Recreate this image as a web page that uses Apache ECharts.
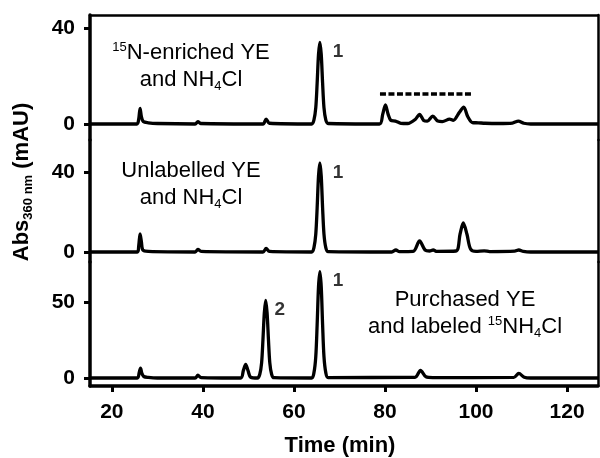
<!DOCTYPE html>
<html><head><meta charset="utf-8">
<script src="https://cdn.jsdelivr.net/npm/echarts@6/dist/echarts.min.js"></script>
<style>html,body{margin:0;padding:0;background:#fff}#c{width:600px;height:458px}</style>
</head><body><div id="c"></div>
<script>
// ---- data ----
const timeRange = [15.2, 126.8];
const xTicks = [20, 40, 60, 80, 100, 120];

// 15N-enriched YE and NH4Cl  [time (min), Abs (mAU)]
const trace15N = [
  [15.2,0],[25.5,0],[25.9,2],[26.2,6.5],[26.5,3],[26.9,1],[28,0.5],[30,0.2],
  [38.3,0],[38.9,1],[39.5,0.2],[53.2,0],[53.9,2],[54.6,0.3],
  [63.9,0],[64.4,1.7],[64.8,6.8],[65.1,17],[65.4,29],[65.7,34],[66.0,29],[66.3,17],[66.6,6.8],[67.0,1.7],[67.5,0.2],
  [78.8,0],[79.5,4],[80.1,8],[80.7,4],[81.3,1.5],[82.3,1.2],[83.5,0.3],[85,0.2],
  [86.7,2],[87.6,4],[88.5,1.5],[89.3,1.2],[90.5,3.3],[91.6,1.2],[92.6,1],[94.2,2],
  [95,1.5],[96.4,5],[97.3,7],[98.2,3],[99.2,0.6],[100.5,0.5],[102,0.3],[105,0.2],
  [108,0.4],[109.3,1.2],[110.5,0.3],[112,0],[126.8,0]
];
// Unlabelled YE and NH4Cl
const traceUnlabelled = [
  [15.2,0],[25.6,0],[25.9,3],[26.2,9],[26.5,5],[26.8,1],[28,0.3],
  [38.3,0],[38.9,1.3],[39.6,0.3],[53.2,0],[53.9,1.8],[54.6,0.3],
  [63.9,0],[64.4,2.2],[64.8,8.9],[65.1,22],[65.4,38],[65.7,44.5],[66.0,38],[66.3,22],[66.6,8.9],[67.0,2.2],[67.5,0.2],
  [81.5,0],[82.4,1],[83.2,0.2],[86.2,0.3],[87.6,5.5],[88.8,1],[89.8,0.5],[90.6,1],
  [91.4,0.3],[95.6,0.5],[96.5,9],[97.2,14.5],[98,9],[98.8,1.5],[100,0.3],[101.8,0.6],
  [103,0.2],[108.5,0.4],[109.4,1],[110.4,0.3],[112,0],[126.8,0]
];
// Purchased YE and labeled 15NH4Cl
const tracePurchased = [
  [15.2,0],[25.6,0],[26.0,3.5],[26.3,6.5],[26.6,3],[27,1],[28,0.4],[30,0],
  [38.3,0],[38.9,1.8],[39.6,0.3],[48.3,0],[48.9,5],[49.4,9],[49.9,5],[50.5,0.5],
  [52.0,0],[52.5,2.5],[52.9,10],[53.2,25.5],[53.5,43],[53.8,51],[54.1,43],[54.4,25.5],[54.7,10],[55.1,2.5],[55.6,0.2],
  [63.9,0],[64.4,3.5],[64.8,14],[65.1,35],[65.4,60],[65.7,70],[66.0,60],[66.3,35],[66.6,14],[67.0,3.5],[67.5,0.3],
  [86.6,0.5],[87.8,5],[89,0.8],[90.5,0.3],[108.3,0.4],[109.4,3],[110.6,0.5],[112,0],[126.8,0]
];
const dashBar = [[78.9, 12.5], [99.1, 12.5]];

const yTicks = [[0, 40], [0, 40], [0, 50]];
const yRanges = [[-6.67, 45.4], [-5, 56], [-5.26, 76.3]];
// [panel, time, value, text]
const peakLabels = [[0, 69.7, 30, '1'], [1, 69.7, 39.5, '1'], [2, 69.7, 63.8, '1'], [2, 56.9, 44.7, '2']];

const panelTexts = [
  '{sup|15}{n|N-enriched YE}\n{n|and NH}{sub|4}{n|Cl}',
  '{n|Unlabelled YE}\n{n|and NH}{sub|4}{n|Cl}',
  '{n|Purchased YE}\n{n|and labeled }{sup|15}{n|NH}{sub|4}{n|Cl}'
];
const yTitle = '{b|Abs}{s|360 nm}{b| (mAU)}';
const xTitle = 'Time (min)';

// ---- chart ----
const FONT = '"Liberation Sans", Arial, sans-serif';
const chart = echarts.init(document.getElementById('c'));
const gridBoxes = [{top: 15, height: 125}, {top: 140, height: 122}, {top: 262, height: 124}];
const traces = [trace15N, traceUnlabelled, tracePurchased];

const grid = gridBoxes.map(g => ({left: 90, right: 2, top: g.top, height: g.height, outerBoundsMode: 'none', containLabel: false}));

const xAxis = [0, 1, 2].map(i => ({
  type: 'value', gridIndex: i, min: timeRange[0], max: timeRange[1],
  position: i === 0 ? 'top' : 'bottom',
  show: i !== 1,
  splitLine: {show: false},
  axisLine: {show: true, onZero: false, lineStyle: {color: '#000', width: i === 2 ? 3.5 : 2.5}},
  axisTick: i === 2 ? {show: true, customValues: xTicks, length: 6, lineStyle: {color: '#000', width: 3}} : {show: false},
  axisLabel: i === 2 ? {show: true, customValues: xTicks, color: '#000', fontSize: 21, fontWeight: 'bold', fontFamily: FONT, margin: 16} : {show: false}
}));

const yAxis = [];
[0, 1, 2].forEach(i => {
  yAxis.push({
    type: 'value', gridIndex: i, min: yRanges[i][0], max: yRanges[i][1], position: 'left',
    splitLine: {show: false},
    axisLine: {show: true, onZero: false, lineStyle: {color: '#000', width: 3.5}},
    axisTick: {show: true, customValues: yTicks[i], length: 6, lineStyle: {color: '#000', width: 3}},
    axisLabel: {show: true, customValues: yTicks[i], color: '#000', fontSize: 21, fontWeight: 'bold', fontFamily: FONT, margin: 15}
  });
});
[0, 1, 2].forEach(i => {
  yAxis.push({
    type: 'value', gridIndex: i, min: yRanges[i][0], max: yRanges[i][1], position: 'right',
    splitLine: {show: false},
    axisLine: {show: true, onZero: false, lineStyle: {color: '#000', width: 2.5}},
    axisTick: {show: false}, axisLabel: {show: false}
  });
});

const series = traces.map((d, i) => ({
  type: 'line', xAxisIndex: i, yAxisIndex: i, data: d, showSymbol: false, symbol: 'none',
  smooth: 0.3, silent: true, lineStyle: {color: '#000', width: 3.3}, z: 3
}));
series.push({
  type: 'line', xAxisIndex: 0, yAxisIndex: 0, data: dashBar, symbol: 'none', silent: true,
  lineStyle: {color: '#000', width: 3.3, type: [6, 2.5]}
});
[0, 1, 2].forEach(i => {
  series.push({
    type: 'scatter', xAxisIndex: i, yAxisIndex: i, symbolSize: 0, silent: true,
    data: peakLabels.filter(p => p[0] === i).map(p => ({value: [p[1], p[2]], name: p[3]})),
    label: {show: true, position: 'inside', formatter: '{b}', color: '#000', fontSize: 19, fontWeight: 'bold', fontFamily: FONT}
  });
});

const rich = {
  n: {fontSize: 22, fontFamily: FONT, color: '#000', lineHeight: 27},
  sup: {fontSize: 13, fontFamily: FONT, color: '#000', lineHeight: 15, verticalAlign: 'top', padding: [2, 0, 0, 0]},
  sub: {fontSize: 13, fontFamily: FONT, color: '#000', lineHeight: 15, verticalAlign: 'bottom'}
};
const textPos = [[191, 66], [191, 184], [465, 313]];
const graphic = panelTexts.map((t, i) => ({
  type: 'text', x: textPos[i][0], y: textPos[i][1], silent: true,
  style: {text: t, rich: rich, align: 'center', verticalAlign: 'middle', fontFamily: FONT, fontSize: 22, fill: '#000'}
}));
graphic.push({
  type: 'text', x: 22, y: 182, rotation: Math.PI / 2, silent: true,
  style: {
    text: yTitle, align: 'center', verticalAlign: 'middle',
    rich: {
      b: {fontSize: 22, fontWeight: 'bold', fontFamily: FONT, color: '#000', lineHeight: 26},
      s: {fontSize: 13, fontWeight: 'bold', fontFamily: FONT, color: '#000', lineHeight: 13, verticalAlign: 'bottom'}
    }
  }
});
graphic.push({
  type: 'text', x: 340, y: 446, silent: true,
  style: {text: xTitle, align: 'center', verticalAlign: 'middle', fontFamily: FONT, fontSize: 22, fontWeight: 'bold', fill: '#000'}
});

chart.setOption({animation: false, backgroundColor: '#fff', grid, xAxis, yAxis, series, graphic});
</script></body></html>
